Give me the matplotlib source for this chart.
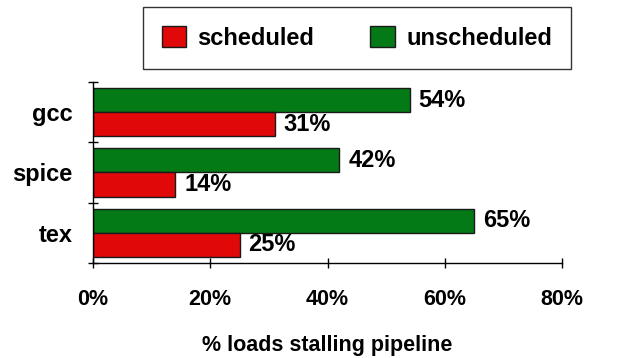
import matplotlib
matplotlib.use("Agg")
import matplotlib.pyplot as plt
import numpy as np

# data
categories = ["gcc", "spice", "tex"]
scheduled = [31, 14, 25]
unscheduled = [54, 42, 65]
x_ticks = [0, 20, 40, 60, 80]

RED = "#E00808"
GREEN = "#047A16"
FONT = "Liberation Sans"

plt.rcParams["font.family"] = [FONT, "DejaVu Sans"]
plt.rcParams["font.weight"] = "bold"

fig = plt.figure(figsize=(6.44, 3.58), dpi=100)
ax = fig.add_axes([0.1444, 0.2654, 0.7283, 0.5056])

y = np.arange(len(categories))
bar_h = 0.4
b_uns = ax.barh(y - bar_h / 2, unscheduled, height=bar_h, color=GREEN,
                edgecolor="#1a1a1a", linewidth=1, label="unscheduled")
b_sch = ax.barh(y + bar_h / 2, scheduled, height=bar_h, color=RED,
                edgecolor="#1a1a1a", linewidth=1, label="scheduled")

for bars, vals in [(b_uns, unscheduled), (b_sch, scheduled)]:
    for rect, v in zip(bars, vals):
        ax.annotate(f"{v}%", (v, rect.get_y() + rect.get_height() / 2),
                    xytext=(6.5, 0), textcoords="offset points",
                    va="center", ha="left", fontsize=17, fontweight="bold")

ax.set_xlim(0, 80)
ax.set_ylim(len(categories) - 0.5, -0.5)

ax.set_xticks(x_ticks)
ax.set_xticklabels([f"{t}%" for t in x_ticks])
ax.tick_params(axis="x", direction="inout", length=7, width=1, pad=15,
               labelsize=15.5, colors="black")

# tick marks between categories, labels at category centres
ax.set_yticks(np.arange(len(categories) + 1) - 0.5)
ax.set_yticklabels([])
ax.set_yticks(y, minor=True)
ax.set_yticklabels(categories, minor=True)
ax.tick_params(axis="y", which="major", direction="inout", length=7, width=1)
ax.tick_params(axis="y", which="minor", length=0, pad=14.5, labelsize=17)

for side in ["top", "right"]:
    ax.spines[side].set_visible(False)
for side in ["left", "bottom"]:
    ax.spines[side].set_linewidth(1)
    ax.spines[side].set_color("black")

ax.set_xlabel("% loads stalling pipeline", fontsize=15.5, fontweight="bold",
              labelpad=18.5)

leg = fig.legend(handles=[b_sch, b_uns], labels=["scheduled", "unscheduled"],
                 loc="upper center", bbox_to_anchor=(0.5543, 0.9804), ncol=2,
                 fontsize=17, frameon=True, fancybox=False, shadow=False,
                 handlelength=1.02, handleheight=1.02, handletextpad=0.5,
                 columnspacing=2.37, borderpad=0.8, borderaxespad=0)
leg.get_frame().set_edgecolor("black")
leg.get_frame().set_linewidth(1)
for t in leg.get_texts():
    t.set_fontweight("bold")

fig.savefig("out.png", dpi=100)
